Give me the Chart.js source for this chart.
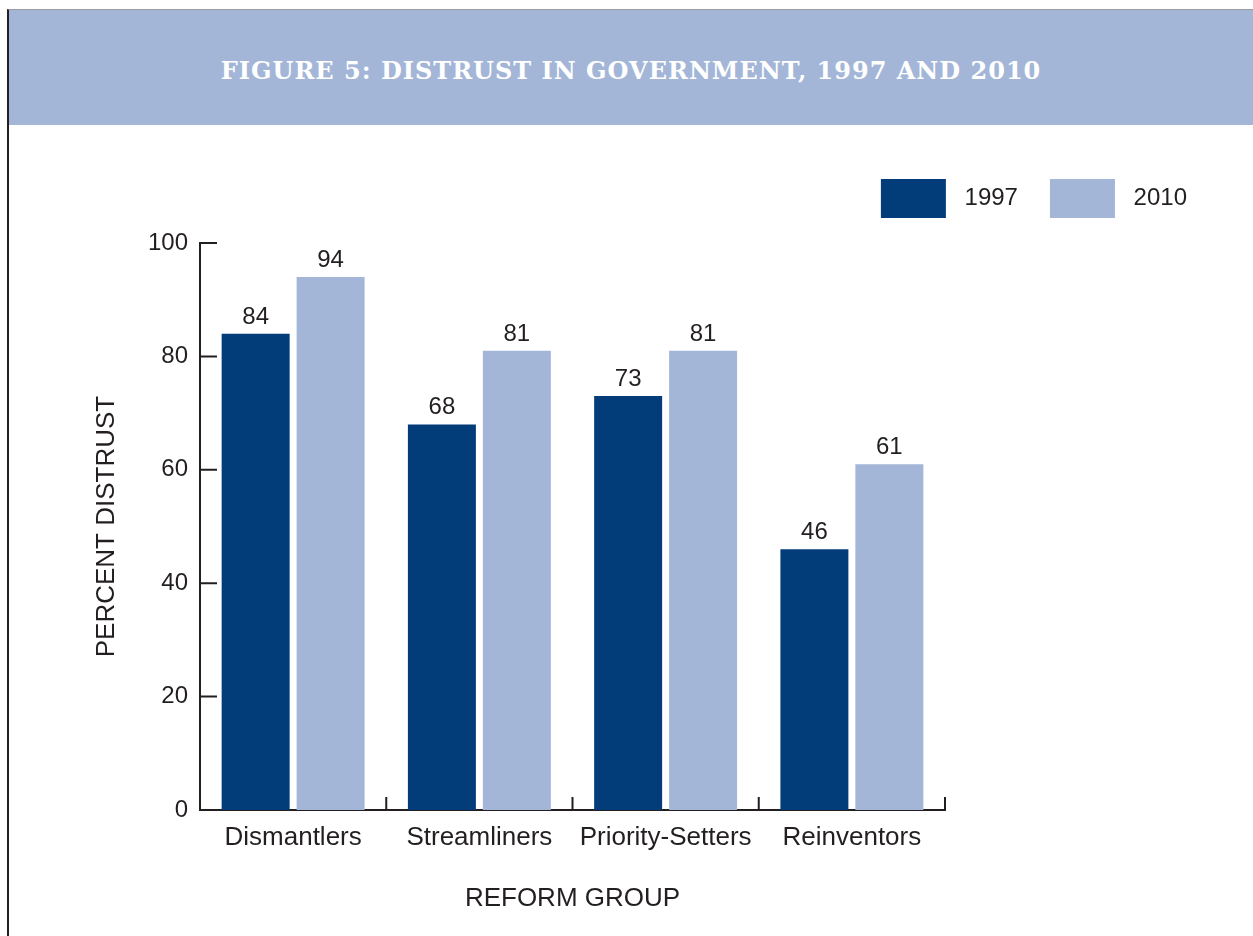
<!DOCTYPE html>
<html>
<head>
<meta charset="utf-8">
<title>Distrust in government, 1997 and 2010</title>
<script src="https://cdn.jsdelivr.net/npm/chart.js@4.4.1/dist/chart.umd.min.js"></script>
<style>
  body { margin: 0; background: #fff; width: 1253px; height: 936px; overflow: hidden; position: relative; }
  #frame { position: absolute; left: 7px; top: 9px; right: 0; bottom: 0; border-left: 2px solid #231f20; border-top: 1px solid #9c9c9c; }
  #header { position: absolute; left: 9px; top: 10px; width: 1244px; height: 115px; background: #a3b6d7;
    box-sizing: border-box; padding-top: 5px;
    display: flex; align-items: center; justify-content: center;
    color: #fff; font: bold 24px "DejaVu Serif", "Liberation Serif", serif; letter-spacing: 1px; }
  #wrap { position: absolute; left: 9px; top: 125px; width: 1244px; height: 811px; }
</style>
</head>
<body>
<div id="frame"></div>
<div id="header">FIGURE 5: DISTRUST IN GOVERNMENT, 1997 AND 2010</div>
<div id="wrap"><canvas id="chart"></canvas></div>
<script>
//************************* data **********************************
const groups = ['Dismantlers', 'Streamliners', 'Priority-Setters', 'Reinventors'];
const years = ['1997', '2010'];
const distrust1997 = [84, 68, 73, 46];
const distrust2010 = [94, 81, 81, 61];
const yTicks = [0, 20, 40, 60, 80, 100];

const darkBlue = '#023c79';
const lightBlue = '#a3b6d8';
const ink = '#231f20';

Chart.defaults.font.family = '"Liberation Sans", Arial, sans-serif';
Chart.defaults.color = ink;

//************************* plugins **********************************
// tick marks that point into the plot, like the original
const inwardTicks = {
  id: 'inwardTicks',
  afterDatasetsDraw(chart) {
    const { ctx, chartArea, scales: { x, y } } = chart;
    ctx.save();
    ctx.strokeStyle = ink;
    ctx.lineWidth = 2;
    ctx.beginPath();
    y.ticks.forEach(t => {
      const py = y.getPixelForValue(t.value);
      ctx.moveTo(chartArea.left, py);
      ctx.lineTo(chartArea.left + 17, py);
    });
    for (let i = 1; i <= groups.length; i++) {
      const px = i < groups.length
        ? (x.getPixelForValue(i - 1) + x.getPixelForValue(i)) / 2
        : chartArea.right;
      ctx.moveTo(px, chartArea.bottom);
      ctx.lineTo(px, chartArea.bottom - 13);
    }
    ctx.stroke();
    ctx.restore();
  }
};

// value above each bar
const valueLabels = {
  id: 'valueLabels',
  afterDatasetsDraw(chart) {
    const ctx = chart.ctx;
    ctx.save();
    ctx.font = '24px "Liberation Sans", Arial, sans-serif';
    ctx.fillStyle = ink;
    ctx.textAlign = 'center';
    ctx.textBaseline = 'alphabetic';
    chart.data.datasets.forEach((ds, i) => {
      chart.getDatasetMeta(i).data.forEach((bar, j) => {
        ctx.fillText(ds.data[j], bar.x, bar.y - 10);
      });
    });
    ctx.restore();
  }
};

// keep the legend a fixed height so the plot starts at the right place
const legendHeight = {
  id: 'legendHeight',
  afterInit(chart) {
    const fit = chart.legend.fit;
    chart.legend.fit = function () {
      fit.call(this);
      this.height = 96;
    };
  }
};

//************************* chart **********************************
new Chart(document.getElementById('chart'), {
  type: 'bar',
  data: {
    labels: groups,
    datasets: [
      { label: years[0], data: distrust1997, backgroundColor: darkBlue, borderWidth: 0 },
      { label: years[1], data: distrust2010, backgroundColor: lightBlue, borderWidth: 0 }
    ]
  },
  options: {
    responsive: true,
    maintainAspectRatio: false,
    animation: false,
    datasets: { bar: { categoryPercentage: 0.805, barPercentage: 0.907 } },
    layout: { padding: { left: 79, right: 34, top: 22, bottom: 0 } },
    plugins: {
      tooltip: { enabled: false },
      legend: {
        position: 'top',
        align: 'end',
        labels: {
          boxWidth: 65,
          boxHeight: 39,
          padding: 32,
          color: ink,
          font: { size: 24 },
          // a leading space widens the gap between box and text
          generateLabels(chart) {
            return Chart.defaults.plugins.legend.labels.generateLabels(chart)
              .map(item => Object.assign(item, { text: ' ' + item.text }));
          }
        }
      }
    },
    scales: {
      x: {
        grid: { display: false, drawTicks: false },
        border: { display: true, color: ink, width: 2 },
        ticks: { font: { size: 26 }, color: ink, padding: 12, maxRotation: 0 },
        title: { display: true, text: 'REFORM GROUP', font: { size: 26 }, color: ink, padding: { top: 0, bottom: 22 } },
        afterFit(scale) { scale.height = 126; }
      },
      y: {
        min: 0,
        max: 100,
        afterBuildTicks(scale) { scale.ticks = yTicks.map(v => ({ value: v })); },
        grid: { display: false, drawTicks: false },
        border: { display: true, color: ink, width: 2 },
        ticks: { font: { size: 24 }, color: ink, padding: 12 },
        title: { display: true, text: 'PERCENT DISTRUST', font: { size: 26 }, color: ink, padding: { top: 3, bottom: 0 } },
        afterFit(scale) { scale.width = 112; }
      },
      spacer: {
        position: 'right',
        grid: { display: false, drawTicks: false },
        border: { display: false },
        ticks: { display: false },
        afterFit(scale) { scale.width = 274; }
      }
    }
  },
  plugins: [inwardTicks, valueLabels, legendHeight]
});
</script>
</body>
</html>
